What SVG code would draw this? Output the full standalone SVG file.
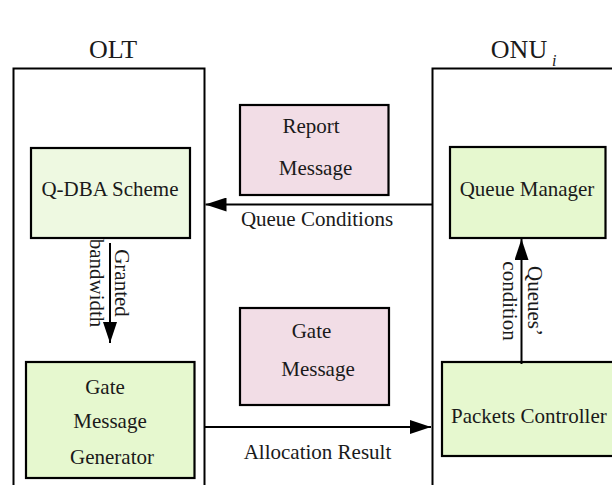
<svg xmlns="http://www.w3.org/2000/svg" width="612" height="485" viewBox="0 0 612 485">
  <style>
    text { font-family: "Liberation Serif", "Times New Roman", serif; font-size: 21px; fill: #1a1a1a; }
    .title { font-size: 26px; }
    .sub { font-size: 16px; font-style: italic; }
    .frame { fill: none; stroke: #000; stroke-width: 2; }
    .green { fill: #e6f8cf; stroke: #000; stroke-width: 2.2; }
    .green-light { fill: #eef9e1; stroke: #000; stroke-width: 2.2; }
    .pink { fill: #f2dde6; stroke: #000; stroke-width: 2.2; }
    .conn { fill: none; stroke: #000; stroke-width: 2; }
  </style>
  <defs>
    <marker id="arrow" viewBox="0 0 21 14" refX="21" refY="7" markerWidth="21" markerHeight="14" markerUnits="userSpaceOnUse" orient="auto">
      <path d="M0,0 L21,7 L0,14 Z" fill="#000"/>
    </marker>
  </defs>

  <rect width="612" height="485" fill="#fff"/>

  <!-- Titles -->
  <g id="title-olt">
    <text class="title" x="113" y="58" text-anchor="middle">OLT</text>
  </g>
  <g id="title-onu">
    <text class="title" x="519" y="58" text-anchor="middle">ONU</text>
    <text class="sub" x="552" y="66">i</text>
  </g>

  <!-- Side frames -->
  <g id="olt-frame">
    <path class="frame" d="M13.5,490 V68.5 H204.5 V490"/>
  </g>
  <g id="onu-frame">
    <path class="frame" d="M432.5,490 V68.5 H620"/>
  </g>

  <!-- OLT nodes -->
  <g id="qdba-scheme">
    <rect class="green-light" x="31" y="148" width="159" height="90"/>
    <text x="110" y="196" text-anchor="middle">Q-DBA Scheme</text>
  </g>
  <g id="gate-message-generator">
    <rect class="green" x="26" y="362" width="168.5" height="116"/>
    <text x="105" y="394" text-anchor="middle">Gate</text>
    <text x="110" y="428" text-anchor="middle">Message</text>
    <text x="112" y="464" text-anchor="middle">Generator</text>
  </g>

  <!-- Messages on the link -->
  <g id="report-message">
    <rect class="pink" x="240" y="105" width="148.5" height="90"/>
    <text x="311" y="133" text-anchor="middle">Report</text>
    <text x="315.5" y="175" text-anchor="middle">Message</text>
  </g>
  <g id="gate-message">
    <rect class="pink" x="240" y="308" width="149" height="97"/>
    <text x="311.5" y="338" text-anchor="middle">Gate</text>
    <text x="318" y="376" text-anchor="middle">Message</text>
  </g>

  <!-- ONU nodes -->
  <g id="queue-manager">
    <rect class="green" x="450" y="147" width="155.5" height="91"/>
    <text x="527" y="196" text-anchor="middle">Queue Manager</text>
  </g>
  <g id="packets-controller">
    <rect class="green" x="442" y="362" width="175" height="94"/>
    <text x="451" y="423">Packets Controller</text>
  </g>

  <!-- Connectors -->
  <g id="connectors">
    <line class="conn" x1="432.5" y1="204.5" x2="205.5" y2="204.5" marker-end="url(#arrow)"/>
    <line class="conn" x1="110" y1="243" x2="110" y2="343" marker-end="url(#arrow)"/>
    <line class="conn" x1="205" y1="427" x2="431" y2="427" marker-end="url(#arrow)"/>
    <line class="conn" x1="521.5" y1="364" x2="521.5" y2="239" marker-end="url(#arrow)"/>

    <text x="317" y="226" text-anchor="middle">Queue Conditions</text>
    <text x="317.5" y="459" text-anchor="middle">Allocation Result</text>

    <g transform="translate(115,283) rotate(90)">
      <text x="0" y="0" text-anchor="middle">Granted</text>
      <text x="0" y="25" text-anchor="middle">bandwidth</text>
    </g>
    <g transform="translate(528,301) rotate(90)">
      <text x="0" y="0" text-anchor="middle">Queues’</text>
      <text x="0" y="25" text-anchor="middle">condition</text>
    </g>
  </g>
</svg>
